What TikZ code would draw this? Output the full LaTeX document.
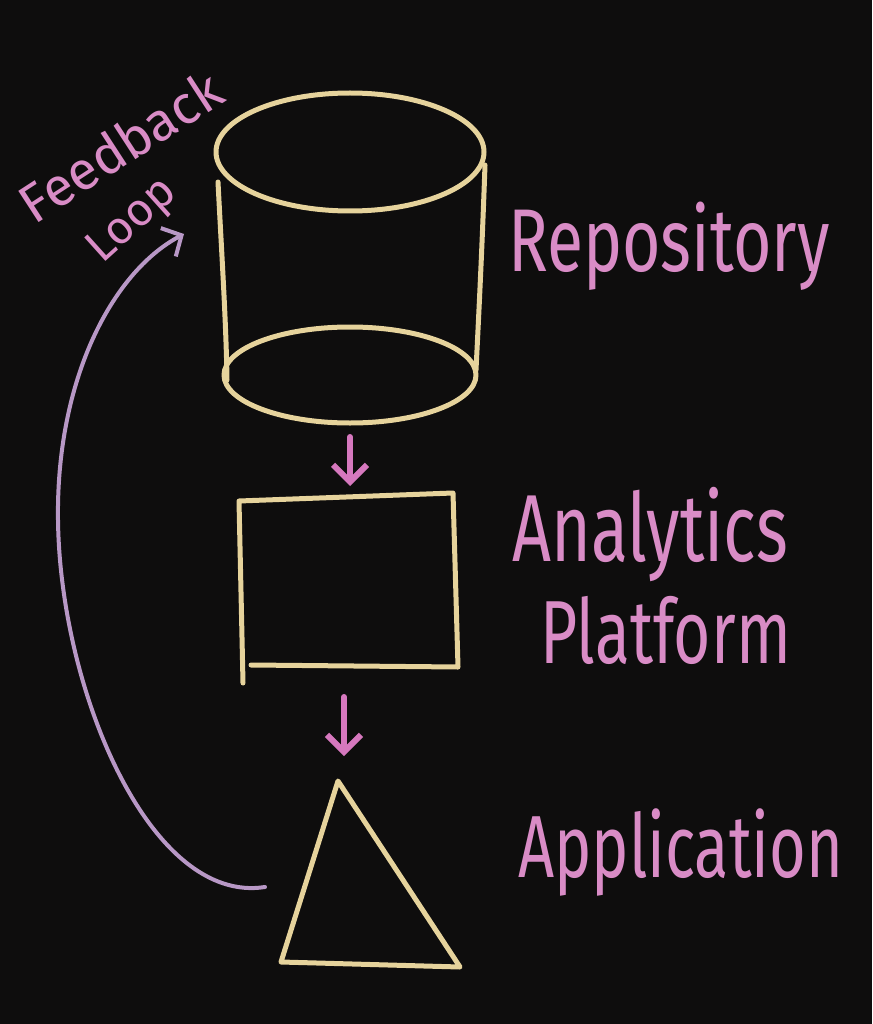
\documentclass[tikz,border=0pt]{standalone}
\usepackage{fontspec}
\setmainfont{Fira Sans}
\usetikzlibrary{arrows.meta}
\definecolor{bg}{HTML}{0E0D0D}
\definecolor{chalk}{HTML}{E6D39C}
\definecolor{pinkarrow}{HTML}{D678BE}
\definecolor{pinktext}{HTML}{D98CC6}
\definecolor{loopcol}{HTML}{B898C6}
\begin{document}
\begin{tikzpicture}[x=1pt,y=-1pt,
  shapeline/.style={draw=chalk,line width=5pt,line cap=round,line join=round},
  flowarrow/.style={draw=pinkarrow,line width=6pt,line cap=round,-{Straight Barb[length=17pt,width=34pt,line width=6pt]}},
  label/.style={text=pinktext,anchor=west,inner sep=0pt},
  handtext/.style={text=pinktext,inner sep=0pt}]
\fill[bg] (0,0) rectangle (872,1024);
\useasboundingbox (0,0) rectangle (872,1024);
% cylinder
\draw[shapeline] (350,152) ellipse [x radius=134, y radius=59];
\draw[shapeline] (350,375) ellipse [x radius=126, y radius=48];
\draw[shapeline] (218,182) .. controls (222,260) and (226,320) .. (227,380);
\draw[shapeline] (485,165) .. controls (482,250) and (479,310) .. (476,370);
\coordinate (cylbot) at (350,437);
% rectangle
\draw[shapeline] (243,683) -- (239,501) -- (453,493) -- (458,667) -- (251,665);
\coordinate (recttop) at (350,486);
\coordinate (rectbot) at (344,697);
% triangle
\draw[shapeline] (338,781) -- (281,962) -- (460,967) -- cycle;
\coordinate (triapex) at (344,756);
\coordinate (trileft) at (265,887);
\coordinate (looptip) at (184,234);
% arrows
\draw[flowarrow] (cylbot) -- (recttop);
\draw[flowarrow] (rectbot) -- (triapex);
% feedback loop
\draw[draw=loopcol,line width=4pt,line cap=round,-{Straight Barb[length=15pt,width=32pt,line width=4pt]}]
  (trileft) .. controls (150,905) and (60,690) .. (58,520)
  .. controls (56,380) and (112,272) .. (looptip);
% labels
\node[label,yscale=1.35,font=\fontsize{66}{66}\selectfont] (repo) at (508,246) {Repository};
\node[label,yscale=1.4,font=\fontsize{68}{68}\selectfont] (anal) at (512,535) {Analytics};
\node[label,yscale=1.4,font=\fontsize{64}{64}\selectfont] (plat) at (540,630) {Platform};
\node[label,yscale=1.4,font=\fontsize{63}{63}\selectfont] (appl) at (518,852) {Application};
\node[handtext,rotate=33,font=\fontsize{54}{54}\selectfont] (feed) at (120,146) {Feedback};
\node[handtext,rotate=42,font=\fontsize{46}{46}\selectfont] (loop) at (133,222) {Loop};
\end{tikzpicture}
\end{document}
